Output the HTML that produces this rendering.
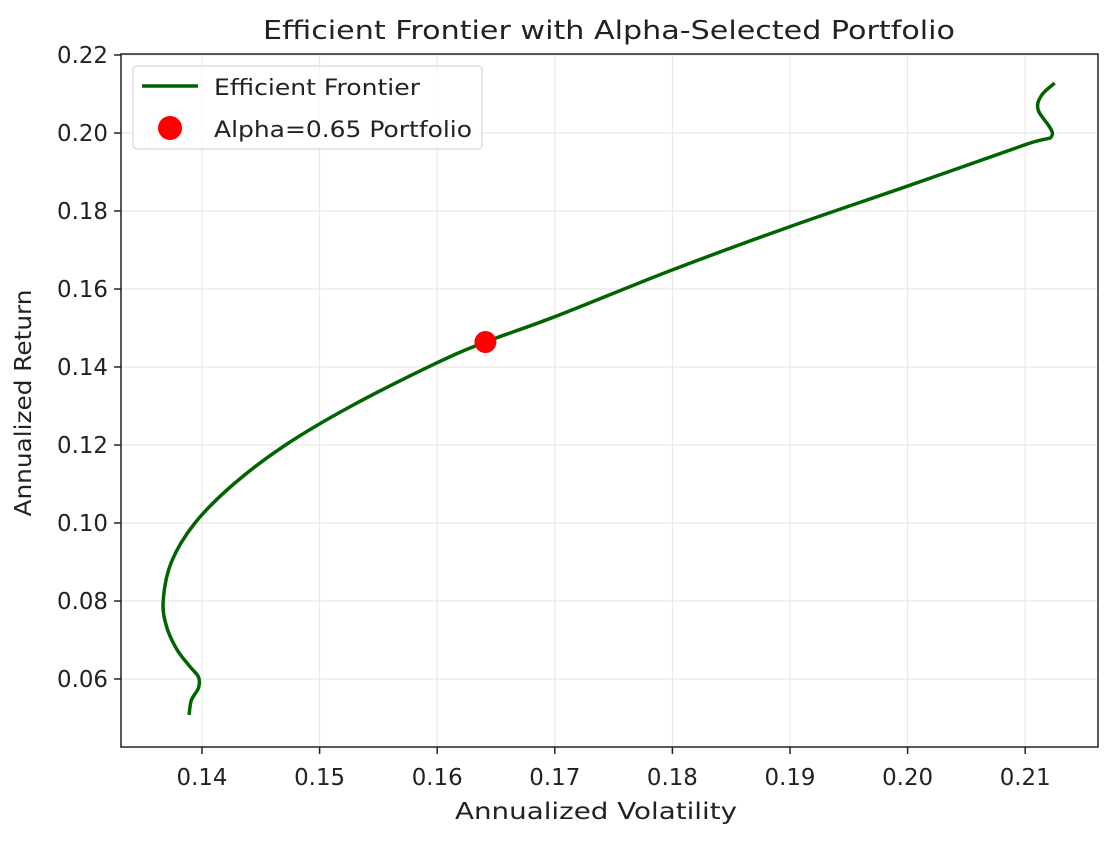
<!DOCTYPE html>
<html><head><meta charset="utf-8"><style>
body{margin:0;background:#fff;}
svg text{font-family:"DejaVu Sans","Liberation Sans",sans-serif;fill:#222;}
</style></head><body>
<svg id="chart" width="1109" height="837" viewBox="0 0 1109 837" xmlns="http://www.w3.org/2000/svg">
<g id="grid"></g>
<g id="axes"></g>
<g id="series"></g>
<text x="609" y="39" font-size="26" text-anchor="middle" textLength="692" lengthAdjust="spacingAndGlyphs">Efficient Frontier with Alpha-Selected Portfolio</text>
<text x="596" y="819" font-size="23" text-anchor="middle" textLength="282" lengthAdjust="spacingAndGlyphs">Annualized Volatility</text>
<text transform="translate(31,403) rotate(-90)" font-size="23" text-anchor="middle" textLength="227" lengthAdjust="spacingAndGlyphs">Annualized Return</text>
<g>
<rect x="133" y="66" width="349" height="83" rx="4" fill="#fff" fill-opacity="0.8" stroke="#ccc"/>
<line x1="142" y1="86" x2="198" y2="86" stroke="#006400" stroke-width="3.5"/>
<text x="214" y="95" font-size="22" textLength="206" lengthAdjust="spacingAndGlyphs">Efficient Frontier</text>
<circle cx="170" cy="128" r="12" fill="#ff0000"/>
<text x="214" y="137" font-size="22" textLength="258" lengthAdjust="spacingAndGlyphs">Alpha=0.65 Portfolio</text>
</g>
</svg>
<script>
const frontierVol=[0.1389,0.1391,0.1397,0.1397,0.1390,0.1379,0.1370,0.1367,0.1374,0.1394,0.1427,0.1471,0.1527,0.1600,0.1641,0.1700,0.1800,0.1900,0.2000,0.2100,0.2123,0.2111,0.2114,0.2125];
const frontierRet=[0.0508,0.0546,0.0577,0.0605,0.0631,0.0674,0.0733,0.0800,0.0900,0.1000,0.1100,0.1200,0.1300,0.1411,0.1464,0.1529,0.1649,0.1760,0.1864,0.1970,0.1995,0.2059,0.2097,0.2128];
const portfolioVol=[0.1641];
const portfolioRet=[0.1464];
const xTicks=[0.14,0.15,0.16,0.17,0.18,0.19,0.20,0.21];
const yTicks=[0.06,0.08,0.10,0.12,0.14,0.16,0.18,0.20,0.22];
const L=121,R=1098,T=54,B=747;
function X(v){return 202+(v-0.14)*11760;}
function Y(r){return 679-(r-0.06)*3900;}
const NS="http://www.w3.org/2000/svg";
function mk(tag,attrs,parent){const e=document.createElementNS(NS,tag);for(const k in attrs)e.setAttribute(k,attrs[k]);parent.appendChild(e);return e;}
const grid=document.getElementById('grid'),axes=document.getElementById('axes'),series=document.getElementById('series');
xTicks.forEach(t=>{const x=X(t);
 const g=mk('line',{x1:x,x2:x,y1:T,y2:B,stroke:'#e5e5e5','stroke-width':1},grid);
 
 
 const tk=mk('line',{x1:x,x2:x,y1:B,y2:B+7,stroke:'#222','stroke-width':1.5},axes);
 
 
 const tx=mk('text',{x:x,y:B+38,'font-size':23,'text-anchor':'middle',textLength:51,lengthAdjust:'spacingAndGlyphs'},axes);tx.textContent=t.toFixed(2);
 
 
});
yTicks.forEach(t=>{const y=Y(t);
 const g=mk('line',{x1:L,x2:R,y1:y,y2:y,stroke:'#e5e5e5','stroke-width':1},grid);
 
 
 const tk=mk('line',{x1:L-7,x2:L,y1:y,y2:y,stroke:'#222','stroke-width':1.5},axes);
 
 
 const tx=mk('text',{x:L-13,y:y+8,'font-size':23,'text-anchor':'end',textLength:51,lengthAdjust:'spacingAndGlyphs'},axes);tx.textContent=t.toFixed(2);
 
 
});
const frame=mk('rect',{x:L,y:T,width:R-L,height:B-T,fill:'none',stroke:'#222','stroke-width':1.5},axes);


const pts=frontierVol.map((v,i)=>[X(v),Y(frontierRet[i])]);
let d='M'+pts[0][0]+','+pts[0][1];
for(let i=0;i<pts.length-1;i++){const p0=pts[Math.max(0,i-1)],p1=pts[i],p2=pts[i+1],p3=pts[Math.min(pts.length-1,i+2)];
 d+=' C'+(p1[0]+(p2[0]-p0[0])/6)+','+(p1[1]+(p2[1]-p0[1])/6)+' '+(p2[0]-(p3[0]-p1[0])/6)+','+(p2[1]-(p3[1]-p1[1])/6)+' '+p2[0]+','+p2[1];}
const line=mk('path',{d:d,fill:'none',stroke:'#006400','stroke-width':3.5,'stroke-linejoin':'round'},series);


portfolioVol.forEach((v,i)=>{const c=mk('circle',{cx:X(v),cy:Y(portfolioRet[i]),r:11,fill:'#ff0000'},series);
 
 
});
</script>
</body></html>
